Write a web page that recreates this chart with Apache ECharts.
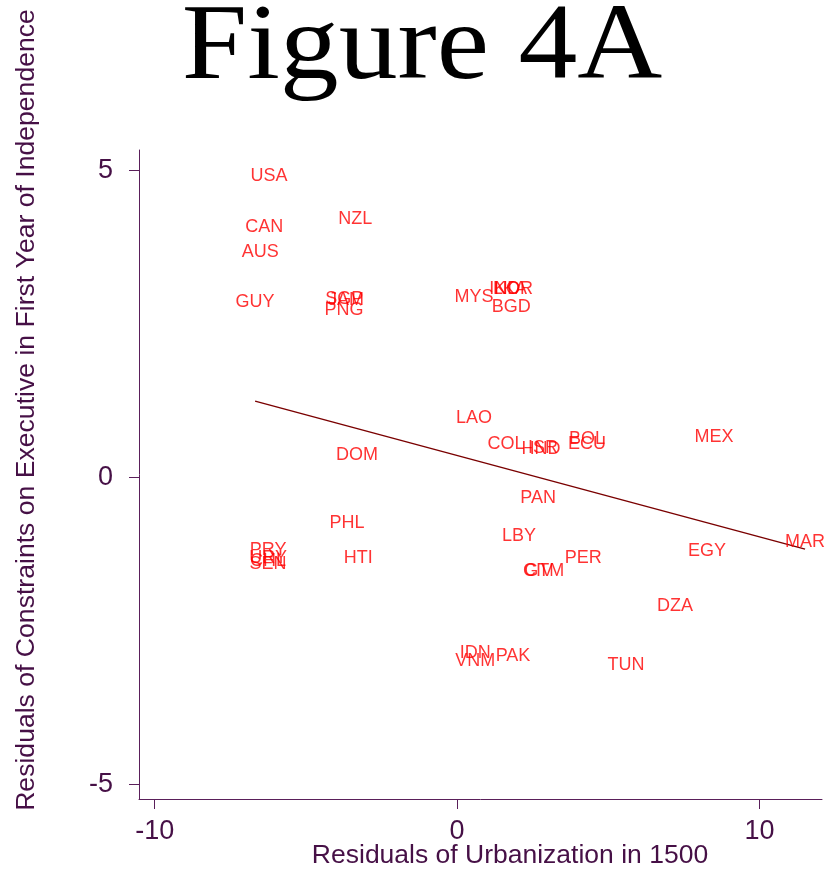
<!DOCTYPE html>
<html>
<head>
<meta charset="utf-8">
<script src="https://cdn.jsdelivr.net/npm/echarts@6/dist/echarts.min.js"></script>
<style>
html,body{margin:0;padding:0;background:#fff;}
#chart{width:827px;height:869px;}
</style>
</head>
<body>
<div id="chart"></div>
<script>
// Country codes and their residuals
const codes = ['USA','CAN','AUS','GUY','NZL','SGP','JAM','PNG','MYS','IND','LKA','KOR','BGD',
  'LAO','COL','HND','ISR','BOL','ECU','MEX','DOM','PAN','PHL','LBY','HTI',
  'PRY','URY','CHL','SEN','PER','EGY','MAR','CIV','GTM','DZA','IDN','VNM','PAK','TUN'];
const urbanResid = [-6.22,-6.38,-6.51,-6.68,-3.37,-3.73,-3.67,-3.74,0.56,1.58,1.75,1.87,1.79,
  0.56,1.62,2.78,2.84,4.30,4.30,8.50,-3.31,2.68,-3.64,2.05,-3.27,
  -6.25,-6.25,-6.25,-6.25,4.17,8.27,11.51,2.68,2.88,7.21,0.60,0.60,1.85,5.59];
const constrResid = [4.91,4.07,3.67,2.85,4.20,2.91,2.89,2.72,2.94,3.06,3.06,3.06,2.78,
  0.96,0.54,0.46,0.47,0.62,0.54,0.65,0.37,-0.34,-0.75,-0.96,-1.32,
  -1.19,-1.32,-1.37,-1.41,-1.32,-1.20,-1.06,-1.53,-1.53,-2.10,-2.86,-2.99,-2.91,-3.06];
// Fitted regression line endpoints
const fitX = [-6.68, 11.51];
const fitY = [1.24, -1.17];
// Tick labels
const xTicks = [-10, 0, 10];
const yTicks = [-5, 0, 5];

const axisColor = '#5a1f5a';
const textColor = '#461046';

const chart = echarts.init(document.getElementById('chart'), null, {renderer: 'canvas'});
const pts = codes.map((c, i) => [urbanResid[i], constrResid[i], c]);
const fit = fitX.map((x, i) => [x, fitY[i]]);

chart.setOption({
  animation: false,
  backgroundColor: '#fff',
  grid: {left: 139, right: 5, top: 150, bottom: 70, containLabel: false},
  xAxis: {
    type: 'value', min: -10.52, max: 12.07,
    splitLine: {show: false},
    axisLine: {show: true, onZero: false, lineStyle: {color: axisColor, width: 1}},
    axisTick: {show: true, length: 10, lineStyle: {color: axisColor}, customValues: xTicks},
    axisLabel: {show: true, customValues: xTicks, color: textColor, fontSize: 27,
      fontFamily: 'Liberation Sans', margin: 19, showMinLabel: true, showMaxLabel: true}
  },
  yAxis: {
    type: 'value', min: -5.24, max: 5.33,
    splitLine: {show: false},
    axisLine: {show: true, onZero: false, lineStyle: {color: axisColor, width: 1}},
    axisTick: {show: true, length: 10, lineStyle: {color: axisColor}, customValues: yTicks},
    axisLabel: {show: true, customValues: yTicks, color: textColor, fontSize: 27,
      fontFamily: 'Liberation Sans', margin: 26, showMinLabel: true, showMaxLabel: true}
  },
  graphic: [
    {type: 'text', x: 422, y: 50, scaleX: 1.09, style: {text: 'Figure 4A', font: '108px "Liberation Serif"',
      fill: '#000', textAlign: 'center', textVerticalAlign: 'middle'}},
    {type: 'text', x: 510, y: 856, style: {text: 'Residuals of Urbanization in 1500',
      font: '26.5px "Liberation Sans"', fill: textColor, textAlign: 'center', textVerticalAlign: 'middle'}},
    {type: 'text', x: 27, y: 410, rotation: Math.PI / 2, style: {
      text: 'Residuals of Constraints on Executive in First Year of Independence',
      font: '26.6px "Liberation Sans"', fill: textColor, textAlign: 'center', textVerticalAlign: 'middle'}}
  ],
  series: [
    {
      type: 'line', data: fit, symbol: 'none', silent: true,
      lineStyle: {color: '#7a0000', width: 1.5}, z: 2
    },
    {
      type: 'scatter', data: pts, symbolSize: 0, z: 3,
      label: {show: true, position: 'inside', formatter: p => p.value[2],
        color: '#ff0000', fontSize: 18, fontFamily: 'Liberation Sans'},
      labelLayout: {hideOverlap: false}
    }
  ]
});
</script>
</body>
</html>
